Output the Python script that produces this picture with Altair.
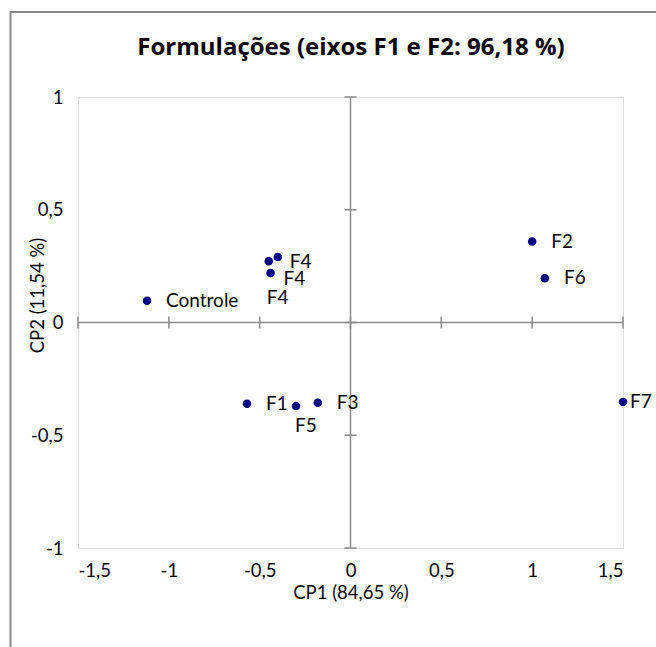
import altair as alt
import pandas as pd

# PCA scores of the formulations on the first two principal components
labels = ["Controle", "F4", "F4", "F4", "F1", "F5", "F3", "F2", "F6", "F7"]
cp1 = [-1.12, -0.45, -0.40, -0.44, -0.57, -0.30, -0.18, 1.00, 1.07, 1.50]
cp2 = [0.096, 0.272, 0.290, 0.219, -0.36, -0.37, -0.356, 0.359, 0.196, -0.352]

x_ticks = [-1.5, -1.0, -0.5, 0.0, 0.5, 1.0, 1.5]
y_ticks = [-1.0, -0.5, 0.0, 0.5, 1.0]

title_text = "Formulações (eixos F1 e F2: 96,18 %)"

FONT = "Lato"
GRAY = "#8a8a8a"
NAVY = "#000080"
AXIS_FS = 18.5

df = pd.DataFrame({"label": labels, "cp1": cp1, "cp2": cp2})
df["idx"] = range(len(df))

xs = alt.Scale(domain=[-1.5, 1.5], nice=False, zero=False)
ys = alt.Scale(domain=[-1, 1], nice=False, zero=False)

comma = "replace(toString(datum.value), '.', ',')"

base = alt.Chart(df)

points = base.mark_circle(size=72, color=NAVY, opacity=1).encode(
    x=alt.X("cp1:Q", scale=xs,
            axis=alt.Axis(values=x_ticks, labelExpr=comma, title="CP1 (84,65 %)",
                          domain=False, ticks=False, grid=False,
                          labelFont=FONT, labelFontSize=AXIS_FS, labelColor="#000",
                          labelPadding=13, titleFont=FONT, titleFontSize=AXIS_FS,
                          titleFontWeight="normal", titleColor="#000",
                          titlePadding=4)),
    y=alt.Y("cp2:Q", scale=ys,
            axis=alt.Axis(values=y_ticks, labelExpr=comma, title="CP2 (11,54 %)",
                          domain=False, ticks=False, grid=False,
                          labelFont=FONT, labelFontSize=AXIS_FS, labelColor="#000",
                          labelPadding=15, titleFont=FONT, titleFontSize=AXIS_FS,
                          titleFontWeight="normal", titleColor="#000",
                          titleX=-41, titleY=198, titleBaseline="middle")),
)

# Zero axes crossing through the middle of the plot
zero_x = alt.Chart(pd.DataFrame({"v": [0.0]})).mark_rule(color=GRAY, strokeWidth=1.5).encode(
    x=alt.X("v:Q", scale=xs))
zero_y = alt.Chart(pd.DataFrame({"v": [0.0]})).mark_rule(color=GRAY, strokeWidth=1.5).encode(
    y=alt.Y("v:Q", scale=ys))

# Cross tick marks on the zero axes
xt = alt.Chart(pd.DataFrame({"t": x_ticks, "z": [0.0] * len(x_ticks)})).mark_tick(
    orient="vertical", size=12, thickness=1.5, color=GRAY, opacity=1).encode(
    x=alt.X("t:Q", scale=xs), y=alt.Y("z:Q", scale=ys))
yt = alt.Chart(pd.DataFrame({"t": y_ticks, "z": [0.0] * len(y_ticks)})).mark_tick(
    orient="horizontal", size=12, thickness=1.5, color=GRAY, opacity=1).encode(
    y=alt.Y("t:Q", scale=ys), x=alt.X("z:Q", scale=xs))

# Point labels: most sit to the right, a few are nudged apart
offsets = {1: (-2, 37), 2: (12, 5), 3: (13, 6), 5: (-1, 20), 9: (7, 0)}
default_idx = [i for i in range(len(labels)) if i not in offsets]

def label_layer(idx_list, dx, dy):
    return base.transform_filter(
        alt.FieldOneOfPredicate(field="idx", oneOf=idx_list)
    ).mark_text(align="left", baseline="middle", dx=dx, dy=dy, font=FONT,
                fontSize=19, color="#000").encode(
        x=alt.X("cp1:Q", scale=xs), y=alt.Y("cp2:Q", scale=ys), text="label:N")

text_layers = [label_layer(default_idx, 19, 0)]
for i, (dx, dy) in offsets.items():
    text_layers.append(label_layer([i], dx, dy))

# Outer chart frame
frame = alt.Chart(pd.DataFrame({"k": [0]})).mark_rect(
    filled=False, stroke=GRAY, strokeWidth=2, clip=False).encode(
    x=alt.value(-67.5), x2=alt.value(700), y=alt.value(-85), y2=alt.value(700))

# Chart heading, centred over the plot area
heading = alt.Chart(pd.DataFrame({"t": [title_text]})).mark_text(
    font="Open Sans", fontSize=24, fontWeight="bold", color="#000",
    align="center", baseline="middle").encode(
    text="t:N", x=alt.value(273), y=alt.value(-49))

chart = alt.layer(frame, zero_x, zero_y, xt, yt, points, *text_layers, heading).properties(
    width=545, height=451,
    autosize=alt.AutoSizeParams(type="none"),
    padding={"left": 78, "top": 97, "right": 33, "bottom": 99},
).configure_view(stroke=GRAY, strokeWidth=1.5).configure(background="white")

chart.save("out.html", embed_options={"renderer": "svg", "actions": False})
